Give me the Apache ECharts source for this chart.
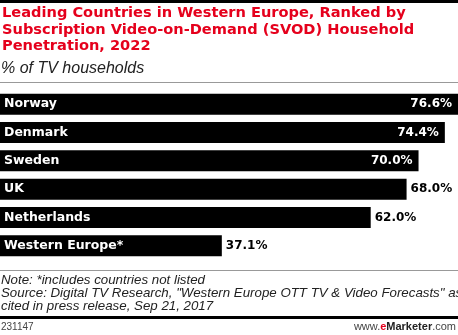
<!DOCTYPE html>
<html><head><meta charset="utf-8">
<style>html,body{margin:0;padding:0;background:#fff}#c{width:458px;height:335px}</style>
<script src="https://cdn.jsdelivr.net/npm/echarts@6/dist/echarts.min.js"></script>
</head><body><div id="c"></div>
<script>
const categories = ["Norway", "Denmark", "Sweden", "UK", "Netherlands", "Western Europe*"];
const values = [76.6, 74.4, 70.0, 68.0, 62.0, 37.1];
const titleLines = ["Leading Countries in Western Europe, Ranked by", "Subscription Video-on-Demand (SVOD) Household", "Penetration, 2022"];
const subtitle = "% of TV households";
const noteLines = ["Note: *includes countries not listed", "Source: Digital TV Research, \"Western Europe OTT TV & Video Forecasts\" as", "cited in press release, Sep 21, 2017"];
const chartId = "231147";

const chart = echarts.init(document.getElementById('c'), null, {renderer: 'canvas'});
const maxV = Math.max(...values);
const BOLD = '"DejaVu Sans", Verdana, sans-serif';
const SANS = '"Liberation Sans", Arial, sans-serif';

const graphic = [
  {type: 'rect', shape: {x: 0, y: 0, width: 458, height: 3}, style: {fill: '#000'}},
  {type: 'rect', shape: {x: 0, y: 82, width: 458, height: 1}, style: {fill: '#999'}},
  {type: 'rect', shape: {x: 0, y: 270, width: 458, height: 1}, style: {fill: '#999'}},
  {type: 'rect', shape: {x: 0, y: 316, width: 458, height: 3}, style: {fill: '#000'}}
];
titleLines.forEach((t, i) => graphic.push({type: 'text', left: 2, top: 6 + i * 16.5,
  style: {text: t, fill: '#e5001c', font: 'bold 14.6px ' + BOLD}}));
graphic.push({type: 'text', left: 1, top: 61, style: {text: subtitle, fill: '#222', font: 'italic 16px ' + SANS}});
noteLines.forEach((t, i) => graphic.push({type: 'text', left: 1, top: 273.5 + i * 13,
  style: {text: t, fill: '#222', font: 'italic 13.3px ' + SANS}}));
graphic.push({type: 'text', left: 1, top: 322, style: {text: chartId, fill: '#444', font: '10px ' + SANS}});
graphic.push({type: 'text', right: 2, top: 321, style: {
  text: '{a|www.}{b|e}{c|Marketer}{a|.com}',
  rich: {
    a: {fill: '#444', font: '11px ' + SANS},
    b: {fill: '#e5001c', font: 'bold 11px ' + SANS},
    c: {fill: '#222', font: 'bold 11px ' + SANS}
  }}});

chart.setOption({
  animation: false,
  grid: {left: 0, right: 0, top: 90, height: 170, containLabel: false},
  xAxis: {type: 'value', min: 0, max: maxV, show: false},
  yAxis: {type: 'category', data: categories, inverse: true, show: false},
  graphic: graphic,
  series: [
    {
      type: 'bar', data: values, barWidth: 21, itemStyle: {color: '#000'},
      label: {show: true, position: 'insideLeft', distance: 4, formatter: '{b}',
        color: '#fff', fontFamily: BOLD, fontWeight: 'bold', fontSize: 12.5}
    },
    {
      type: 'bar', barGap: '-100%', barWidth: 21, itemStyle: {color: 'transparent'},
      data: values.map(v => {
        const inside = v >= 70;
        return {value: v, label: {
          position: inside ? 'insideRight' : 'right', distance: inside ? 6 : 4,
          color: inside ? '#fff' : '#000'}};
      }),
      label: {show: true, formatter: p => p.value.toFixed(1) + '%',
        fontFamily: BOLD, fontWeight: 'bold', fontSize: 12}
    }
  ]
});
</script></body></html>
